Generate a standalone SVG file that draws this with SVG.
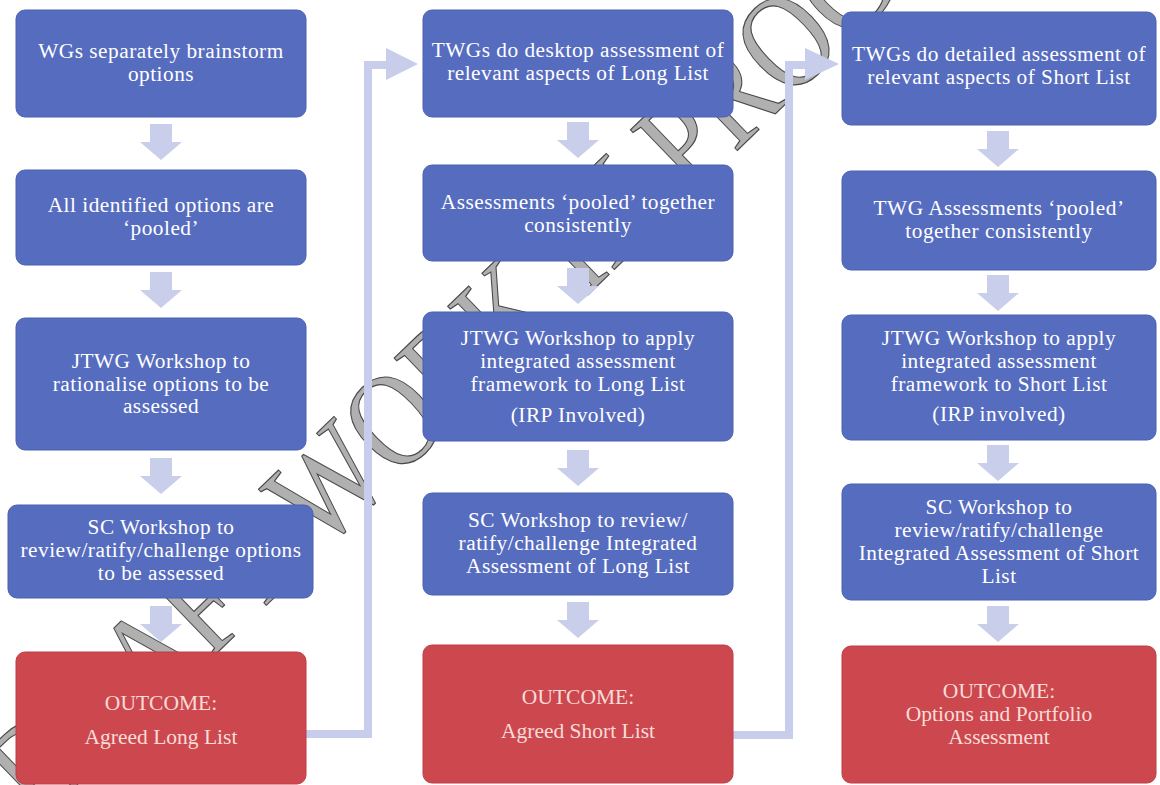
<svg xmlns="http://www.w3.org/2000/svg" xmlns:xlink="http://www.w3.org/1999/xlink" width="1160" height="785" viewBox="0 0 1160 785">
<style>
.box{fill:#566cbf;stroke:#4b60b0;stroke-width:1}
.out{fill:#cd484e;stroke:#c03c44;stroke-width:1}
.t{font-family:"Liberation Serif","Times New Roman",serif;font-size:21.3px;letter-spacing:0.5px;fill:#ffffff;text-anchor:middle}
.to{font-family:"Liberation Serif","Times New Roman",serif;font-size:21.5px;fill:#f8dcd8;text-anchor:middle}
.conn{fill:none;stroke:#c7cdea;stroke-width:8}
.head{fill:#c7cdea}
.wm{font-family:"Liberation Serif","Times New Roman",serif;font-size:136px;fill:#b0b0b0;stroke:#4a4a4a;stroke-width:1.2}
</style>
<defs>
<path id="down" d="M-11,0 H11 V18 H21 L0,36 L-21,18 H-11 Z" fill="#c9cfea"/>
</defs>
<rect width="1160" height="785" fill="#ffffff"/>
<g id="watermark">
<text class="wm" transform="translate(40,824) rotate(-44) scale(0.82,1)">DRAFT WORK IN PROGRESS</text>
</g>
<g id="connectors">
<path class="conn" d="M306,734 H368 V65 H390"/>
<polygon class="head" points="386,48 418,64 386,80"/>
<path class="conn" d="M733,735 H789 V65 H808"/>
<polygon class="head" points="805,48 839,64 805,80"/>
<use xlink:href="#down" x="161" y="124"/>
<use xlink:href="#down" x="161" y="272"/>
<use xlink:href="#down" x="161" y="458"/>
<use xlink:href="#down" x="161" y="606"/>
<use xlink:href="#down" x="578" y="122"/>
<use xlink:href="#down" x="578" y="268"/>
<use xlink:href="#down" x="578" y="450"/>
<use xlink:href="#down" x="578" y="602"/>
<use xlink:href="#down" x="998" y="131"/>
<use xlink:href="#down" x="998" y="275"/>
<use xlink:href="#down" x="998" y="445"/>
<use xlink:href="#down" x="998" y="606"/>
</g>
<g id="n1">
<rect class="box" x="16" y="10" width="290" height="107" rx="9"/>
<text class="t" x="161" y="58">WGs separately brainstorm</text>
<text class="t" x="161" y="81">options</text>
</g>
<g id="n2">
<rect class="box" x="16" y="170" width="290" height="95" rx="9"/>
<text class="t" x="161" y="212">All identified options are</text>
<text class="t" x="161" y="235">‘pooled’</text>
</g>
<g id="n3">
<rect class="box" x="16" y="318" width="290" height="132" rx="9"/>
<text class="t" x="161" y="368">JTWG Workshop to</text>
<text class="t" x="161" y="391">rationalise options to be</text>
<text class="t" x="161" y="413">assessed</text>
</g>
<g id="n4">
<rect class="box" x="8" y="505" width="305" height="93" rx="9"/>
<text class="t" x="161" y="534">SC Workshop to</text>
<text class="t" x="161" y="557">review/ratify/challenge options</text>
<text class="t" x="161" y="580">to be assessed</text>
</g>
<g id="n5">
<rect class="out" x="16" y="652" width="290" height="132" rx="9"/>
<text class="to" x="161" y="710">OUTCOME:</text>
<text class="to" x="161" y="744">Agreed Long List</text>
</g>
<g id="n6">
<rect class="box" x="423" y="10" width="310" height="107" rx="9"/>
<text class="t" x="578" y="57">TWGs do desktop assessment of</text>
<text class="t" x="578" y="80">relevant aspects of Long List</text>
</g>
<g id="n7">
<rect class="box" x="423" y="165" width="310" height="96" rx="9"/>
<text class="t" x="578" y="209">Assessments ‘pooled’ together</text>
<text class="t" x="578" y="232">consistently</text>
</g>
<g id="n8">
<rect class="box" x="423" y="312" width="310" height="129" rx="9"/>
<text class="t" x="578" y="345">JTWG Workshop to apply</text>
<text class="t" x="578" y="368">integrated assessment</text>
<text class="t" x="578" y="391">framework to Long List</text>
<text class="t" x="578" y="422">(IRP Involved)</text>
</g>
<g id="n9">
<rect class="box" x="423" y="493" width="310" height="102" rx="9"/>
<text class="t" x="578" y="527">SC Workshop to review/</text>
<text class="t" x="578" y="550">ratify/challenge Integrated</text>
<text class="t" x="578" y="573">Assessment of Long List</text>
</g>
<g id="n10">
<rect class="out" x="423" y="645" width="310" height="138" rx="9"/>
<text class="to" x="578" y="704">OUTCOME:</text>
<text class="to" x="578" y="738">Agreed Short List</text>
</g>
<g id="n11">
<rect class="box" x="842" y="12" width="314" height="113" rx="9"/>
<text class="t" x="999" y="61">TWGs do detailed assessment of</text>
<text class="t" x="999" y="84">relevant aspects of Short List</text>
</g>
<g id="n12">
<rect class="box" x="842" y="171" width="314" height="99" rx="9"/>
<text class="t" x="999" y="215">TWG Assessments ‘pooled’</text>
<text class="t" x="999" y="238">together consistently</text>
</g>
<g id="n13">
<rect class="box" x="842" y="315" width="314" height="125" rx="9"/>
<text class="t" x="999" y="345">JTWG Workshop to apply</text>
<text class="t" x="999" y="368">integrated assessment</text>
<text class="t" x="999" y="391">framework to Short List</text>
<text class="t" x="999" y="421">(IRP involved)</text>
</g>
<g id="n14">
<rect class="box" x="842" y="484" width="314" height="116" rx="9"/>
<text class="t" x="999" y="514">SC Workshop to</text>
<text class="t" x="999" y="537">review/ratify/challenge</text>
<text class="t" x="999" y="560">Integrated Assessment of Short</text>
<text class="t" x="999" y="583">List</text>
</g>
<g id="n15">
<rect class="out" x="842" y="646" width="314" height="137" rx="9"/>
<text class="to" x="999" y="698">OUTCOME:</text>
<text class="to" x="999" y="721">Options and Portfolio</text>
<text class="to" x="999" y="744">Assessment</text>
</g>
</svg>
